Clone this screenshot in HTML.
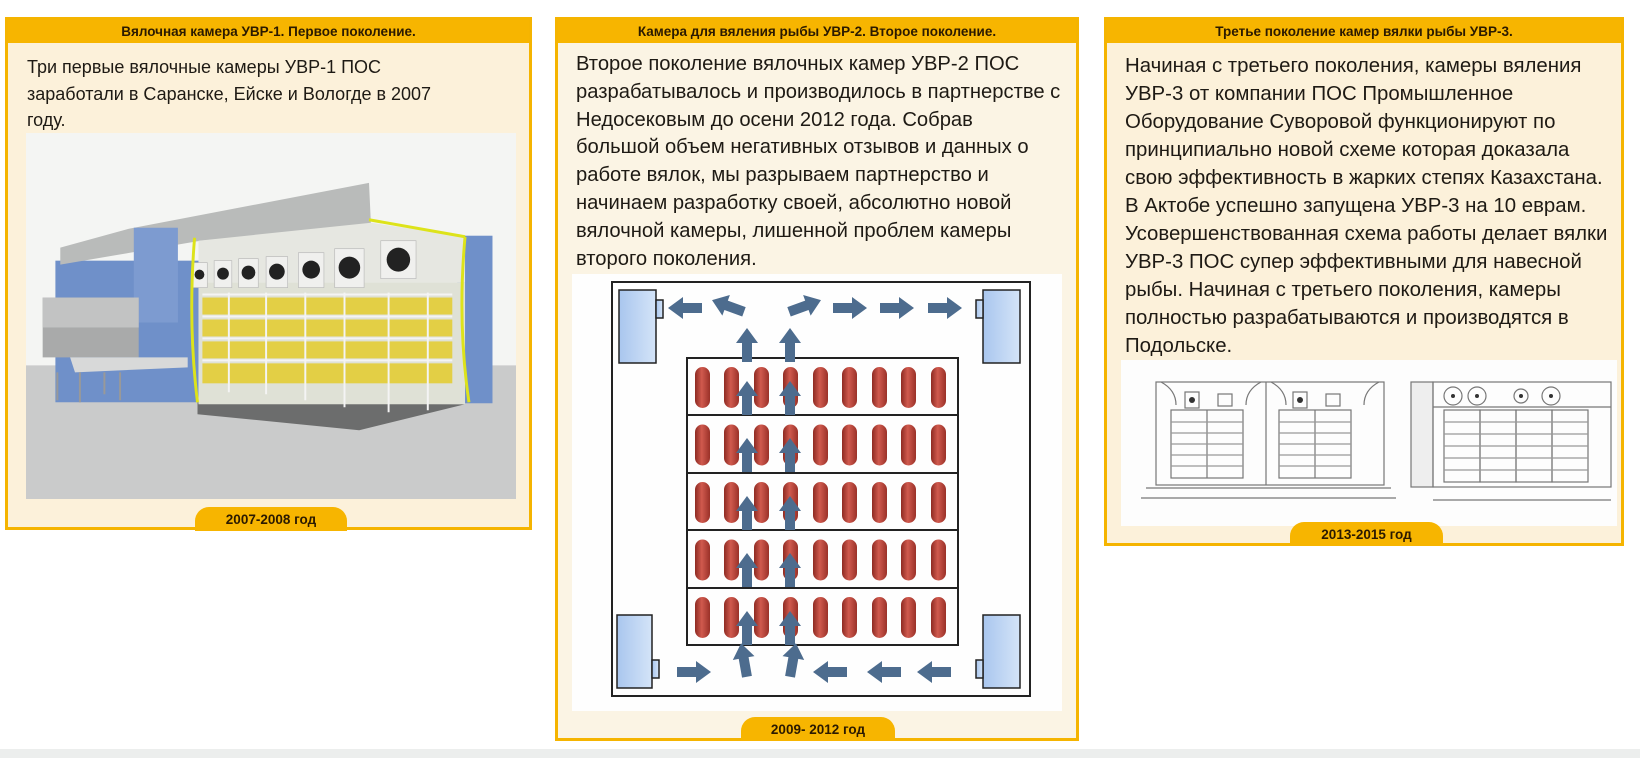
<!DOCTYPE html>
<html><head><meta charset="utf-8">
<style>
html,body{margin:0;padding:0;}
body{width:1640px;height:758px;position:relative;overflow:hidden;background:#fff;font-family:"Liberation Sans","Noto Sans CJK SC",sans-serif;}
.card{position:absolute;border:3px solid #f5b400;background:#fcf1da;box-sizing:border-box;}
.hd{position:absolute;left:0;right:0;top:0;height:23px;background:#f7b500;color:#2b1a00;font-weight:bold;font-size:13.5px;text-align:center;line-height:23px;}
.tx{position:absolute;font-size:18.6px;color:#1e1a14;white-space:nowrap;}
.tab{position:absolute;height:24px;background:#f7b500;border-radius:14px 14px 0 0;color:#2b1a00;font-weight:bold;font-size:13.5px;text-align:center;line-height:26px;}
.band{position:absolute;left:0;top:749px;width:1640px;height:9px;background:#eceeed;}
</style></head><body>

<div class="band"></div>

<!-- Card 1 -->
<div class="card" style="left:5px;top:17px;width:527px;height:513px;">
 <div class="hd">Вялочная камера УВР-1. Первое поколение.</div>
 <div class="tx" style="left:19px;top:34px;line-height:26.6px;font-size:18px;">Три первые вялочные камеры УВР-1 ПОС<br>заработали в Саранске, Ейске и Вологде в 2007<br>году.</div>
 <svg style="position:absolute;left:18px;top:113px;" width="490" height="366" viewBox="0 0 500 367" preserveAspectRatio="none">
  <rect width="500" height="367" fill="#f4f5f3"/>
  <rect y="233" width="500" height="134" fill="#cacbcb"/>
  <polygon points="175,270 448,272 340,298 175,282" fill="#6c6d6d"/>
  <rect x="30" y="128" width="150" height="142" fill="#6f90c9"/>
  <rect x="440" y="103" width="36" height="168" fill="#6f90c9"/>
  <polygon points="35,115 105,96 350,50 352,92 178,108 35,132" fill="#b9bbba"/>
  <rect x="110" y="95" width="45" height="95" fill="#7d9bd0"/>
  <polygon points="176,108 352,90 448,104 448,150 176,150" fill="#e6e7e1"/>
  <rect x="176" y="150" width="272" height="122" fill="#dfe1d6"/>
  <g fill="#f0f0ee" stroke="#bbb" stroke-width="0.7">
   <rect x="170" y="130" width="15" height="25"/><rect x="192" y="128" width="18" height="27"/><rect x="217" y="126" width="20" height="29"/>
   <rect x="245" y="124" width="22" height="31"/><rect x="278" y="120" width="26" height="35"/><rect x="315" y="116" width="30" height="39"/><rect x="362" y="108" width="36" height="38"/>
  </g>
  <g fill="#222">
   <circle cx="177" cy="142" r="5"/><circle cx="201" cy="141" r="6"/><circle cx="227" cy="140" r="7"/><circle cx="256" cy="139" r="8"/>
   <circle cx="291" cy="137" r="9"/><circle cx="330" cy="135" r="11"/><circle cx="380" cy="127" r="12"/>
  </g>
  <g fill="#e3cf45"><rect x="180" y="165" width="255" height="17"/><rect x="180" y="187" width="255" height="17"/><rect x="180" y="209" width="255" height="17"/><rect x="180" y="231" width="255" height="20"/></g>
  <g stroke="#f4f4f4" stroke-width="2"><line x1="180" y1="162" x2="435" y2="162"/><line x1="180" y1="184" x2="435" y2="184"/><line x1="180" y1="206" x2="435" y2="206"/><line x1="180" y1="228" x2="435" y2="228"/>
   <line x1="207" y1="160" x2="207" y2="260"/><line x1="245" y1="160" x2="245" y2="262"/><line x1="285" y1="160" x2="285" y2="268"/><line x1="325" y1="160" x2="325" y2="275"/><line x1="370" y1="160" x2="370" y2="280"/><line x1="410" y1="160" x2="410" y2="278"/></g>
  <path d="M172,105 Q165,190 175,270" stroke="#dde31a" stroke-width="3" fill="none"/>
  <path d="M448,104 Q440,190 452,270" stroke="#dde31a" stroke-width="3" fill="none"/>
  <line x1="350" y1="87" x2="448" y2="104" stroke="#dde31a" stroke-width="3"/>
  <rect x="17" y="165" width="98" height="60" fill="#a9aaaa"/>
  <rect x="17" y="165" width="98" height="30" fill="#c2c3c3"/>
  <polygon points="45,225 165,225 165,235 50,240" fill="#d8d9d9"/>
  <g stroke="#999" stroke-width="2"><line x1="32" y1="240" x2="32" y2="268"/><line x1="55" y1="240" x2="55" y2="270"/><line x1="80" y1="240" x2="80" y2="262"/><line x1="96" y1="240" x2="96" y2="268"/></g>
 </svg>
 <div class="tab" style="left:187px;top:487px;width:152px;">2007-2008 год</div>
</div>

<!-- Card 2 -->
<div class="card" style="left:555px;top:17px;width:524px;height:724px;background:#fbf4e4;">
 <div class="hd">Камера для вяления рыбы УВР-2. Второе поколение.</div>
 <div class="tx" style="left:18px;top:31px;line-height:27.8px;font-size:20.2px;">Второе поколение вялочных камер УВР-2 ПОС<br>разрабатывалось и производилось в партнерстве с<br>Недосековым до осени 2012 года. Собрав<br>большой объем негативных отзывов и данных о<br>работе вялок, мы разрываем партнерство и<br>начинаем разработку своей, абсолютно новой<br>вялочной камеры, лишенной проблем камеры<br>второго поколения.</div>
</div>
<svg style="position:absolute;left:0;top:0;" width="1640" height="758">
 <defs>
  <linearGradient id="pg" x1="0" x2="1"><stop offset="0" stop-color="#8e2a22"/><stop offset="0.45" stop-color="#d05a4e"/><stop offset="1" stop-color="#9a3128"/></linearGradient>
  <linearGradient id="bg" x1="0" x2="1"><stop offset="0" stop-color="#a9c6ee"/><stop offset="1" stop-color="#d4e4f8"/></linearGradient>
  <path id="ar" d="M-17,-5 H2 V-11 L17,0 L2,11 V5 H-17 Z" fill="#4d6c8e"/>
 </defs>
 <rect x="572" y="274" width="490" height="437" fill="#fefefe"/>
 <rect x="612" y="282" width="418" height="414" fill="none" stroke="#222" stroke-width="2"/>
 <g fill="url(#bg)" stroke="#222" stroke-width="1.5">
  <rect x="619" y="290" width="37" height="73"/><rect x="656" y="300" width="7" height="18"/>
  <rect x="983" y="290" width="37" height="73"/><rect x="976" y="300" width="7" height="18"/>
  <rect x="617" y="615" width="35" height="73"/><rect x="652" y="660" width="7" height="18"/>
  <rect x="983" y="615" width="37" height="73"/><rect x="976" y="660" width="7" height="18"/>
 </g>
 <rect x="687" y="358" width="271" height="287" fill="none" stroke="#222" stroke-width="2"/>
 <g stroke="#222" stroke-width="2"><line x1="687" y1="415" x2="958" y2="415"/><line x1="687" y1="473" x2="958" y2="473"/><line x1="687" y1="530" x2="958" y2="530"/><line x1="687" y1="588" x2="958" y2="588"/></g>
 <g fill="url(#pg)">
  <g id="prow">
   <rect x="695" y="367" width="15" height="41" rx="7.5"/><rect x="724" y="367" width="15" height="41" rx="7.5"/><rect x="754" y="367" width="15" height="41" rx="7.5"/><rect x="783" y="367" width="15" height="41" rx="7.5"/><rect x="813" y="367" width="15" height="41" rx="7.5"/><rect x="842" y="367" width="15" height="41" rx="7.5"/><rect x="872" y="367" width="15" height="41" rx="7.5"/><rect x="901" y="367" width="15" height="41" rx="7.5"/><rect x="931" y="367" width="15" height="41" rx="7.5"/>
  </g>
  <use href="#prow" y="57.5"/><use href="#prow" y="115"/><use href="#prow" y="172.5"/><use href="#prow" y="230"/>
 </g>
 <use href="#ar" transform="translate(685,308) rotate(180)"/>
 <use href="#ar" transform="translate(728,306) rotate(200)"/>
 <use href="#ar" transform="translate(805,306) rotate(-20)"/>
 <use href="#ar" transform="translate(850,308)"/>
 <use href="#ar" transform="translate(897,308)"/>
 <use href="#ar" transform="translate(945,308)"/>
 <g>
  <use href="#ar" transform="translate(747,345) rotate(-90)"/><use href="#ar" transform="translate(790,345) rotate(-90)"/>
  <use href="#ar" transform="translate(747,398) rotate(-90)"/><use href="#ar" transform="translate(790,398) rotate(-90)"/>
  <use href="#ar" transform="translate(747,455) rotate(-90)"/><use href="#ar" transform="translate(790,455) rotate(-90)"/>
  <use href="#ar" transform="translate(747,513) rotate(-90)"/><use href="#ar" transform="translate(790,513) rotate(-90)"/>
  <use href="#ar" transform="translate(747,570) rotate(-90)"/><use href="#ar" transform="translate(790,570) rotate(-90)"/>
  <use href="#ar" transform="translate(747,628) rotate(-90)"/><use href="#ar" transform="translate(790,628) rotate(-90)"/>
  <use href="#ar" transform="translate(744,660) rotate(-100)"/><use href="#ar" transform="translate(793,660) rotate(-80)"/>
 </g>
 <use href="#ar" transform="translate(694,672)"/>
 <use href="#ar" transform="translate(830,672) rotate(180)"/>
 <use href="#ar" transform="translate(884,672) rotate(180)"/>
 <use href="#ar" transform="translate(934,672) rotate(180)"/>
</svg>
<div class="tab" style="left:741px;top:717px;width:154px;">2009- 2012 год</div>

<!-- Card 3 -->
<div class="card" style="left:1104px;top:17px;width:520px;height:529px;">
 <div class="hd">Третье поколение камер вялки рыбы УВР-3.</div>
 <div class="tx" style="left:18px;top:32px;line-height:28px;font-size:20.4px;">Начиная с третьего поколения, камеры вяления<br>УВР-3 от компании ПОС Промышленное<br>Оборудование Суворовой функционируют по<br>принципиально новой схеме которая доказала<br>свою эффективность в жарких степях Казахстана.<br>В Актобе успешно запущена УВР-3 на 10 еврам.<br>Усовершенствованная схема работы делает вялки<br>УВР-3 ПОС супер эффективными для навесной<br>рыбы. Начиная с третьего поколения, камеры<br>полностью разрабатываются и производятся в<br>Подольске.</div>
 <svg style="position:absolute;left:14px;top:340px;" width="496" height="166" viewBox="0 0 496 166">
  <rect width="496" height="166" fill="#fdfdfd"/>
  <g fill="none" stroke="#777" stroke-width="1.2">
   <rect x="35" y="22" width="228" height="103"/>
   <line x1="145" y1="22" x2="145" y2="125"/>
   <path d="M40,22 Q55,30 55,45"/><path d="M140,22 Q125,30 125,45"/><path d="M150,22 Q165,30 165,45"/><path d="M258,22 Q243,30 243,45"/>
   <rect x="50" y="50" width="72" height="68"/><line x1="86" y1="50" x2="86" y2="118"/>
   <rect x="158" y="50" width="72" height="68"/><line x1="194" y1="50" x2="194" y2="118"/>
   <g stroke="#999"><line x1="50" y1="62" x2="122" y2="62"/><line x1="50" y1="73" x2="122" y2="73"/><line x1="50" y1="84" x2="122" y2="84"/><line x1="50" y1="95" x2="122" y2="95"/><line x1="50" y1="106" x2="122" y2="106"/>
   <line x1="158" y1="62" x2="230" y2="62"/><line x1="158" y1="73" x2="230" y2="73"/><line x1="158" y1="84" x2="230" y2="84"/><line x1="158" y1="95" x2="230" y2="95"/><line x1="158" y1="106" x2="230" y2="106"/></g>
   <rect x="64" y="32" width="14" height="16"/><rect x="97" y="34" width="14" height="12"/>
   <rect x="172" y="32" width="14" height="16"/><rect x="205" y="34" width="14" height="12"/>
   <line x1="25" y1="128" x2="270" y2="128"/><line x1="20" y1="138" x2="275" y2="138"/>
   <rect x="290" y="22" width="22" height="105" fill="#eee"/>
   <rect x="312" y="22" width="178" height="105"/>
   <line x1="312" y1="47" x2="490" y2="47"/>
   <rect x="323" y="50" width="36" height="72"/><rect x="359" y="50" width="36" height="72"/><rect x="395" y="50" width="36" height="72"/><rect x="431" y="50" width="36" height="72"/>
   <g stroke="#999"><line x1="323" y1="62" x2="467" y2="62"/><line x1="323" y1="74" x2="467" y2="74"/><line x1="323" y1="86" x2="467" y2="86"/><line x1="323" y1="98" x2="467" y2="98"/><line x1="323" y1="110" x2="467" y2="110"/></g>
   <circle cx="332" cy="36" r="9"/><circle cx="356" cy="36" r="9"/><circle cx="400" cy="36" r="7"/><circle cx="430" cy="36" r="9"/>
   <line x1="312" y1="140" x2="490" y2="140"/>
  </g>
  <g fill="#333"><circle cx="71" cy="40" r="3"/><circle cx="179" cy="40" r="3"/><circle cx="332" cy="36" r="2"/><circle cx="356" cy="36" r="2"/><circle cx="400" cy="36" r="2"/><circle cx="430" cy="36" r="2"/></g>
 </svg>
 <div class="tab" style="left:183px;top:502px;width:153px;">2013-2015 год</div>
</div>

</body></html>
